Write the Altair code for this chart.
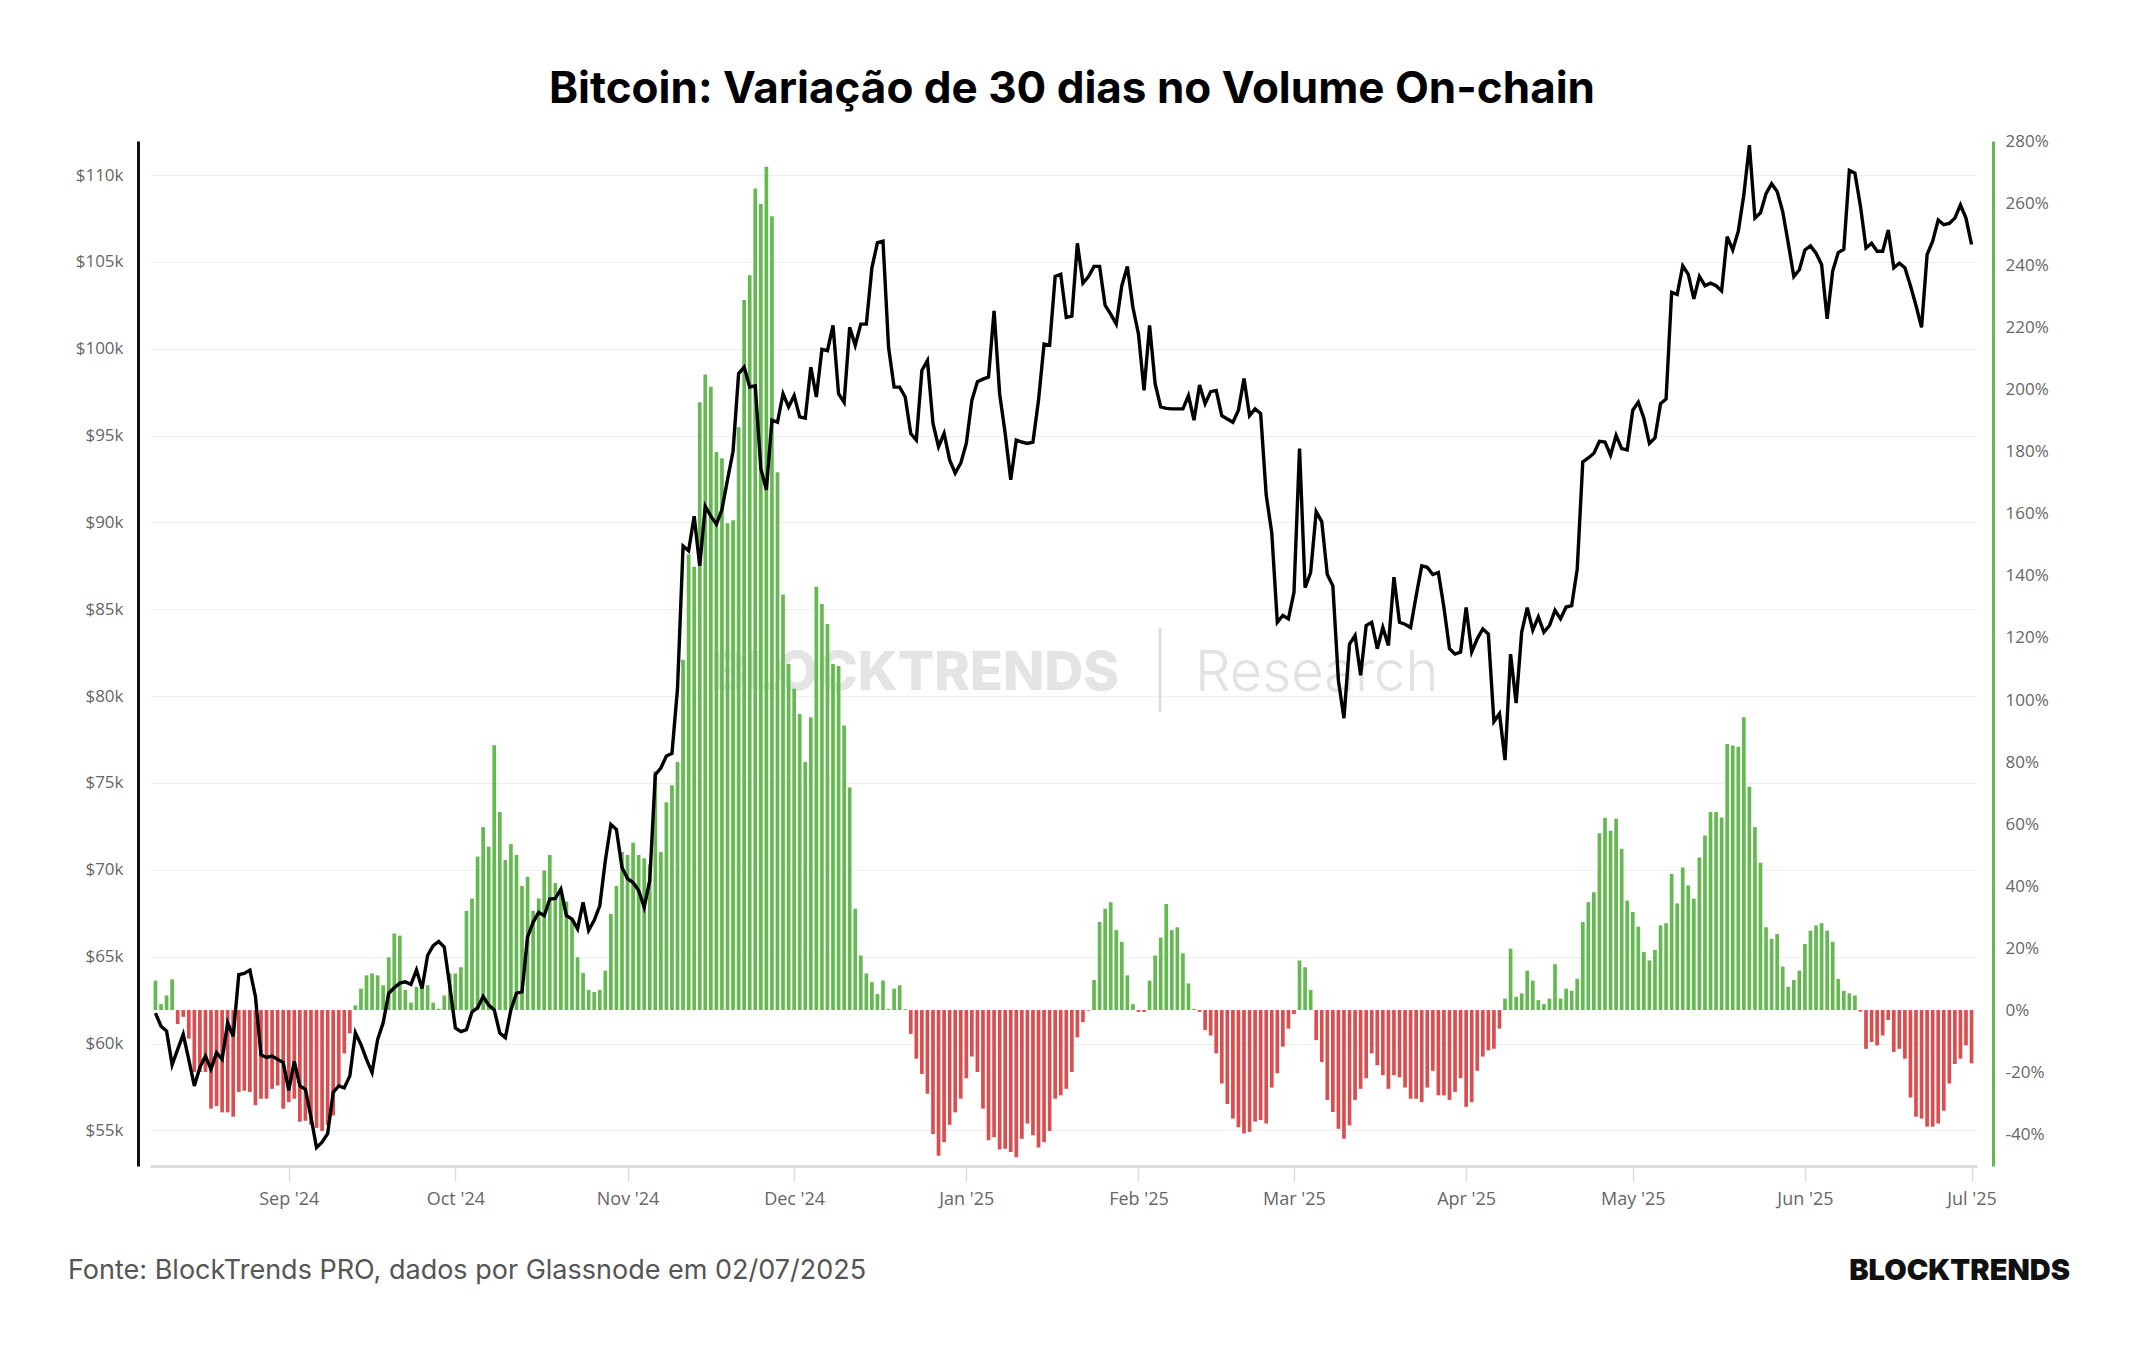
import altair as alt
import numpy as np
import pandas as pd

# Daily series, 2024-08-08 .. 2025-07-01
START_DATE = "2024-08-08"

# 30-day change in on-chain volume (%)
pct_change = [
    9.5, 1.9, 4.7, 9.9,
    -4.5, -2.2, -9.2, -20, -20, -20, -31.8, -31, -33, -33, -34.4, -26.4, -26, -26.4, -30.7, -28.6,
    -28.6, -25.4, -24.3, -31.8, -29.7, -28.6, -36, -35.7, -37, -38, -39, -37, -34, -24.3, -14, -7.5,
    1.5, 6.9, 11.2, 11.8, 11.2, 8, 17, 24.7, 24, 6.5, 2.4, 7.5, 8, 8, 2.4, 0.4, 4.7, 11.8, 11.8,
    13.8, 32, 36, 49.5, 59, 52.7, 85.4, 63.9, 48.4, 53.5, 50,
    40, 43, 32, 36, 45, 50, 41, 38, 35, 29.5, 17, 12, 6.5, 5.8, 6.5, 12.7, 31, 40, 51, 50,
    54, 50, 49, 47, 77, 51, 67, 72.5, 80, 113, 147, 143, 196, 205, 201, 180, 178, 157, 158, 188,
    229, 237, 265, 260,
    272, 256, 173.5, 134, 111.6, 103.6, 95.5, 80, 94.4, 136.5, 131, 124.5, 111.6, 111, 91.8, 71.8,
    32.7, 17.6, 11.8, 9, 5.2, 9.5, 0.4, 6.9, 8, 0.3,
    -7.7, -15.7, -20.6, -27, -40, -47, -42.6, -37, -33, -28.6, -22, -15, -20, -31.8, -42, -41,
    -45, -44.7, -45.8, -47.5, -41.5, -36.6, -40.4, -44.3, -42.6, -39, -28.6, -27.5, -25.4,
    -20, -8.8, -3.9, -0.2, 9.7, 28.4, 32.7, 34.8, 25.8, 22, 11.2, 1.9, -0.6, -0.6, 9.5, 17.6,
    23.4, 34.2, 25.8, 26.7, 18.3, 8.6, 0.4, -0.6, -6.5, -8.2, -14, -23.7, -30.3, -35, -37.8, -39.8,
    -39.3, -36, -35.5, -36.6, -25, -20.4, -11.8, -6, -1.3, 16, 13.8, 6.5, -9.7, -16.8, -29, -32.9,
    -38.3, -41.5, -37.2, -29, -25.4, -22,
    -14, -17.8, -21, -25.4, -21, -21.7, -25, -28.6, -28.6, -29.7, -25, -19.6, -27.5, -27.5, -29,
    -26.4, -22, -31.2, -29.7, -19.6, -15, -13, -12.5, -6,
    3.7, 19.8, 4.3, 5.4, 12.7, 9.5, 3.2, 1.9, 3.7, 14.8, 3.7, 6.9, 6.2, 10.1, 28.4, 34.8, 38, 57,
    62, 57.8, 61.7, 52, 35.3, 31.6, 26.9, 18.7, 16, 19.4, 27.3, 28,
    43.9, 34.4, 46, 40.2, 35.9, 49.2, 56.3, 63.9, 63.9, 62.1, 85.8, 85.3, 84.9, 94.4, 72, 59,
    47.5, 26.7, 23, 24.5, 14, 7.5, 9.7, 12.7, 21.3, 25.6, 27.3, 28, 25.6, 22, 10, 6.2, 5.4, 4.7,
    -0.5, -12.5, -10.3, -11.4, -8.2, -3.2, -13.5, -12.5, -15.7, -28.2, -34.4, -35, -37.6, -37.6,
    -36.6, -32.5, -23.7, -17.4, -15.7, -11.4, -17.2,
]

# BTC price (USD)
btc_price = [
    61750, 61000, 60720, 58780, 59660, 60530, 59080, 57560, 58630, 59280,
    58520, 59470, 59090, 61190, 60420, 63970, 64040, 64230, 62710, 59350,
    59200, 59280, 59090, 58900, 57300, 58980, 57560, 57370, 55770, 54010,
    54320, 54810, 57180, 57560, 57450, 58140, 60620, 59940, 59090, 58330,
    60230, 61190, 62900, 63210, 63480, 63550, 63400, 64230, 63170, 65070,
    65640, 65870, 65560, 63300, 60890,
    60690, 60800, 61830, 62060, 62710, 62210, 61940, 60610, 60340, 61940,
    62900, 62970, 66140, 66980, 67550, 67360, 68320, 68350, 68890, 67360,
    67170, 66600, 68130, 66520, 67090, 67930, 70520, 72620, 72320, 70140,
    69500, 69270, 68810, 67850, 69380, 75480, 75860, 76550, 76700, 80440,
    88640, 88370, 90360, 87500, 90930, 90360, 89900, 90740, 92460, 94100,
    98560, 98940, 97800, 97870,
    93100, 91880, 95890, 95770, 97410, 96650, 97300, 96080, 96000, 98940,
    97220, 99970, 99890, 101340, 97410, 96920, 101230, 100200, 101420, 101420,
    104660, 106110, 106190, 100080, 97790, 97790, 97220, 95120, 94740, 98750,
    99320, 95700, 94360, 95120, 93600, 92840, 93410, 94550, 97030, 98100,
    98250, 98370, 102180, 97410, 95120, 92460, 94740, 94630, 94550, 94630,
    97030, 100270, 100200, 104160, 104280, 101800,
    101880, 106070, 103780, 104160, 104740, 104740, 102490, 101990, 101420, 103630,
    104740, 102370, 100850, 97600, 101340, 97990, 96650, 96570, 96540, 96540,
    96540, 97300, 95890, 97910, 96840, 97530, 97600, 96150, 95960, 95770,
    96460, 98290, 96150, 96540, 96270, 91580, 89400, 84250, 84640, 84450,
    85980, 94250, 86240, 87120, 90620, 90050, 87000, 86350, 80900, 78730,
    83000, 83490, 81200,
    84060, 84250, 82730, 83950, 82920, 86850, 84250, 84140, 83950, 85780,
    87500, 87420, 87000, 87120, 85100, 82730, 82420, 82540, 85100, 82540,
    83300, 83870, 83570, 78540, 78990, 76320, 82420, 79600, 83680, 85100,
    83800, 84560, 83680, 84060, 84940, 84450, 85130, 85210, 87310, 93490,
    93710, 93980, 94670, 94630, 93870, 95010, 94250, 94170, 96460, 96920,
    96000, 94550, 94860, 96840, 97110,
    103250, 103130, 104770, 104280, 102870, 104160, 103630, 103780, 103630, 103330,
    106450, 105690, 106760, 108860, 111720, 107520, 107830, 108930, 109500, 109050,
    107900, 106070, 104160, 104550, 105690, 105920, 105500, 104850, 101720, 104470,
    105540, 105730, 110270, 110110, 108210, 105800, 106070, 105610, 105610, 106830,
    104660, 104930, 104660, 103630, 102490, 101230, 105420, 106190, 107410, 107140,
    107220, 107520, 108280, 107520, 106000,
]

price_ticks = list(range(55000, 110001, 5000))
pct_ticks = list(range(-40, 281, 20))
month_ticks = [(2024, m) for m in range(9, 13)] + [(2025, m) for m in range(1, 8)]

GREEN = "#64b950"
RED = "#d94f4f"
LABEL_COLOR = "#666666"
AXIS_FONT = "Open Sans"

n = min(len(pct_change), len(btc_price))
dates = pd.date_range(START_DATE, periods=n, freq="D").strftime("%Y-%m-%dT00:00:00")
df = pd.DataFrame({
    "date": dates,
    "price": btc_price[:n],
    "pct": pct_change[:n],
})
df["sign"] = np.where(df["pct"] >= 0, "up", "down")

W, H = 1827, 1025

x_enc = alt.X(
    "date:T",
    title=None,
    scale=alt.Scale(domain=[
        alt.DateTime(year=2024, month=8, date=7, hours=22),
        alt.DateTime(year=2025, month=7, date=1, hours=2),
    ]),
    axis=alt.Axis(
        values=[alt.DateTime(year=y, month=m, date=1) for y, m in month_ticks],
        format="%b '%y",
        grid=False,
        domainColor="#dddddd",
        domainWidth=3,
        tickColor="#dddddd",
        tickWidth=1.5,
        tickSize=15,
        labelPadding=9,
        labelFont=AXIS_FONT,
        labelFontSize=18,
        labelColor=LABEL_COLOR,
    ),
)

bars = alt.Chart(df).mark_bar(size=3.7).encode(
    x=x_enc,
    y=alt.Y(
        "pct:Q",
        title=None,
        scale=alt.Scale(domain=[-50.3, 280.3], nice=False),
        axis=alt.Axis(
            orient="right",
            values=pct_ticks,
            labelExpr="datum.value + '%'",
            grid=False,
            ticks=False,
            tickSize=0,
            offset=16,
            domainColor=GREEN,
            domainWidth=3,
            labelPadding=12,
            labelFont=AXIS_FONT,
            labelFontSize=17,
            labelColor=LABEL_COLOR,
        ),
    ),
    y2=alt.datum(0),
    color=alt.Color("sign:N", scale=alt.Scale(domain=["up", "down"], range=[GREEN, RED]), legend=None),
)

line = alt.Chart(df).mark_line(color="#000000", strokeWidth=3.4).encode(
    x=x_enc,
    y=alt.Y(
        "price:Q",
        title=None,
        scale=alt.Scale(domain=[52950, 111960], nice=False, zero=False),
        axis=alt.Axis(
            orient="left",
            values=price_ticks,
            labelExpr="'$' + (datum.value / 1000) + 'k'",
            grid=True,
            gridColor="#eeeeee",
            gridWidth=1,
            ticks=False,
            tickSize=0,
            offset=12,
            domainColor="#111111",
            domainWidth=3,
            labelPadding=15,
            labelFont=AXIS_FONT,
            labelFontSize=17,
            labelColor=LABEL_COLOR,
        ),
    ),
)


def label(text, x, y, **style):
    return alt.Chart(pd.DataFrame({"t": [text]})).mark_text(**style).encode(
        text="t:N", x=alt.value(x), y=alt.value(y)
    )


watermark = alt.layer(
    label("BLOCKTRENDS", 561, 533, align="left", baseline="middle", font="Inter",
          fontSize=54, fontWeight=800, color="#e4e4e4"),
    label("|", 1010, 533, align="center", baseline="middle", font="Inter",
          fontSize=70, fontWeight=200, color="#dedede"),
    label("Research", 1045, 533, align="left", baseline="middle", font="Inter",
          fontSize=56, fontWeight=300, color="#e2e2e2"),
)

title = label("Bitcoin: Variação de 30 dias no Volume On-chain", 922, -51,
              align="center", baseline="middle", font="Inter", fontSize=44,
              fontWeight=700, color="#000000")
footer = label("Fonte: BlockTrends PRO, dados por Glassnode em 02/07/2025", -82, 1130,
               align="left", baseline="middle", font="Inter", fontSize=27,
               fontWeight=400, color="#555555")
logo = label("BLOCKTRENDS", 1920, 1130, align="right", baseline="middle", font="Inter",
             fontSize=29, fontWeight=900, color="#111111")

chart = alt.layer(watermark, bars, line, title, footer, logo).resolve_scale(
    y="independent"
).properties(
    width=W,
    height=H,
    background="#ffffff",
    padding={"left": 150, "top": 141, "right": 167, "bottom": 184},
    autosize=alt.AutoSizeParams(type="none"),
).configure_view(stroke=None)

chart.save("out.html", embed_options={"renderer": "svg", "actions": False})
